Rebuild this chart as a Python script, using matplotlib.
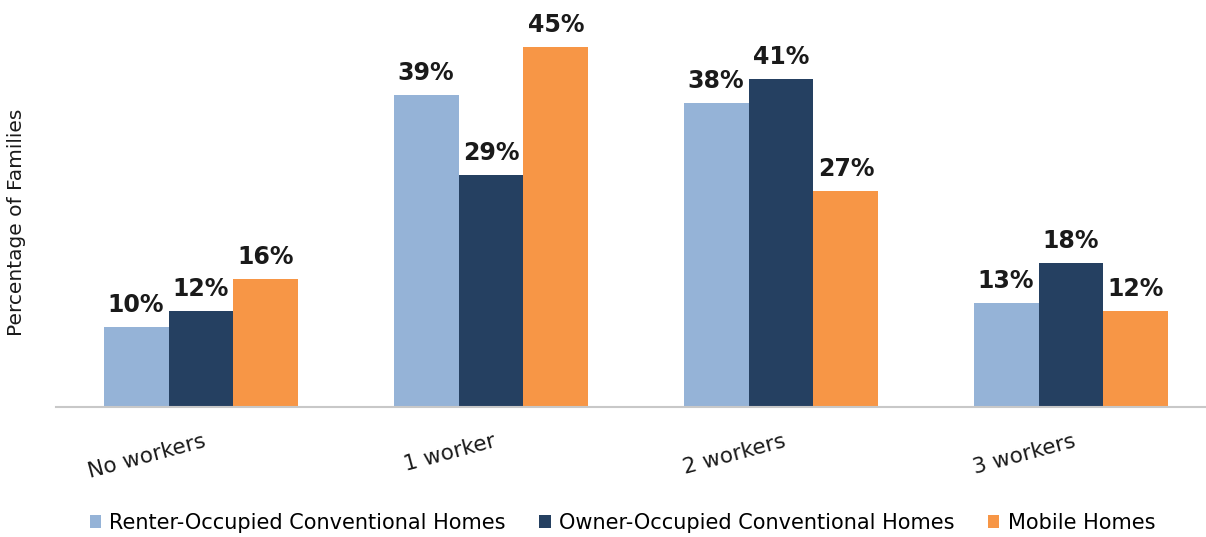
import numpy as np
import matplotlib.pyplot as plt
from matplotlib.transforms import blended_transform_factory

categories = ['No workers', '1 worker', '2 workers', '3 workers']
series_names = ['Renter-Occupied Conventional Homes',
                'Owner-Occupied Conventional Homes',
                'Mobile Homes']
renter = [10, 39, 38, 13]
owner = [12, 29, 41, 18]
mobile = [16, 45, 27, 12]
colors = ['#95B3D7', '#254061', '#F79646']

plt.rcParams['font.family'] = ['DejaVu Sans']

fig = plt.figure(figsize=(12.06, 5.37), dpi=100)
ax = fig.add_axes([56 / 1206, 1 - 407 / 537, 1 - 56 / 1206, 387 / 537])

x = np.arange(len(categories))
w = 0.224
for k, (vals, name, c) in enumerate(zip([renter, owner, mobile], series_names, colors)):
    pos = x + (k - 1) * w
    ax.bar(pos, vals, width=w, color=c, label=name, zorder=2)
    for xi, v in zip(pos, vals):
        ax.annotate(f'{v}%', (xi, v), xytext=(0, 7), textcoords='offset points',
                    ha='center', va='bottom', fontsize=17, fontweight='bold',
                    color='#1a1a1a')

ax.set_xlim(-0.5, (1206 - 201) / 290)
ax.set_ylim(0, 48.4)
for s in ['top', 'right', 'left']:
    ax.spines[s].set_visible(False)
ax.spines['bottom'].set_color('#C8C8C8')
ax.spines['bottom'].set_linewidth(1.5)
ax.set_yticks([])
ax.set_xticks([])

# rotated category labels, right end sitting under each group centre
trans = blended_transform_factory(ax.transData, ax.transAxes)
for xi, cat in zip(x, categories):
    ax.text(xi + 0.005, -0.062, cat, transform=trans, ha='right', va='top',
            rotation=15, rotation_mode='anchor', fontsize=15.5, color='#1a1a1a')

fig.text(17 / 1206, 1 - 222 / 537, 'Percentage of Families', rotation=90,
         ha='center', va='center', fontsize=14.5, color='#1a1a1a')

fig.legend(loc='center', bbox_to_anchor=(0.516, 0.026), ncol=3, frameon=False,
           fontsize=15, handlelength=0.55, handleheight=0.55, handletextpad=0.4,
           columnspacing=1.6)

fig.savefig('out.png', dpi=100)
